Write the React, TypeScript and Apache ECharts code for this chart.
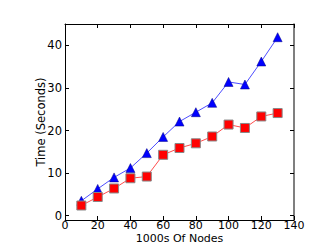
import React, { useEffect, useRef } from "react";
import * as echarts from "echarts";

const nodes = [10, 20, 30, 40, 50, 60, 70, 80, 90, 100, 110, 120, 130];
const blueTimes = [3.5, 6.3, 9.0, 11.2, 14.7, 18.5, 22.1, 24.3, 26.5, 31.4, 30.8, 36.2, 41.9];
const redTimes = [2.4, 4.4, 6.4, 8.8, 9.2, 14.3, 15.9, 17.0, 18.6, 21.4, 20.6, 23.3, 24.1];
const yTicks = [0, 10, 20, 30, 40];

export default function App() {
  const ref = useRef<HTMLDivElement>(null);
  useEffect(() => {
    const chart = echarts.init(ref.current!, null, { renderer: "svg" });
    const font = "DejaVu Sans";
    const tickStyle = { inside: true, length: 4, lineStyle: { color: "#000" } };
    chart.setOption({
      animation: false,
      backgroundColor: "#fff",
      grid: { left: 65, right: 33, top: 24, bottom: 25, containLabel: false, outerBoundsMode: "none" },
      xAxis: [
        {
          type: "value", min: 0, max: 140, interval: 20,
          name: "1000s Of Nodes", nameLocation: "middle", nameGap: 13, nameMoveOverlap: false,
          nameTextStyle: { fontFamily: font, fontSize: 11, color: "#000", lineHeight: 11 },
          axisLine: { onZero: false, lineStyle: { color: "#000", width: 1 } },
          axisTick: tickStyle,
          axisLabel: { fontFamily: font, fontSize: 11, color: "#000", margin: 0, lineHeight: 11 },
          splitLine: { show: false },
        },
        {
          type: "value", min: 0, max: 140, interval: 20, position: "top",
          axisLine: { show: true, onZero: false, lineStyle: { color: "#000", width: 1 } },
          axisTick: tickStyle, axisLabel: { show: false }, splitLine: { show: false },
        },
      ],
      yAxis: [
        {
          type: "value", min: -1, max: 45,
          name: "Time (Seconds)", nameLocation: "middle", nameGap: 18, nameMoveOverlap: false,
          nameTextStyle: { fontFamily: font, fontSize: 11.5, color: "#000" },
          axisLine: { show: true, onZero: false, lineStyle: { color: "#000", width: 1 } },
          axisTick: { ...tickStyle, customValues: yTicks },
          axisLabel: { fontFamily: font, fontSize: 11.5, color: "#000", margin: 3, customValues: yTicks },
          splitLine: { show: false },
        },
        {
          type: "value", min: -1, max: 45, position: "right",
          axisLine: { show: true, onZero: false, lineStyle: { color: "#555", width: 1.5 } },
          axisTick: { ...tickStyle, customValues: yTicks },
          axisLabel: { show: false }, splitLine: { show: false },
        },
      ],
      series: [
        {
          type: "line",
          data: nodes.map((n, i) => [n, blueTimes[i]]),
          symbol: "triangle", symbolSize: 9,
          lineStyle: { color: "#4d4dff", width: 1 },
          itemStyle: { color: "#0000ff", borderColor: "#000080", borderWidth: 0.5 },
        },
        {
          type: "line",
          data: nodes.map((n, i) => [n, redTimes[i]]),
          symbol: "rect", symbolSize: 9,
          lineStyle: { color: "#ff4d4d", width: 1 },
          itemStyle: { color: "#ff0000", borderColor: "#888", borderWidth: 1 },
        },
      ],
    });
    return () => chart.dispose();
  }, []);
  return <div ref={ref} style={{ position: "absolute", left: 0, top: 0, width: 327, height: 245 }} />;
}
